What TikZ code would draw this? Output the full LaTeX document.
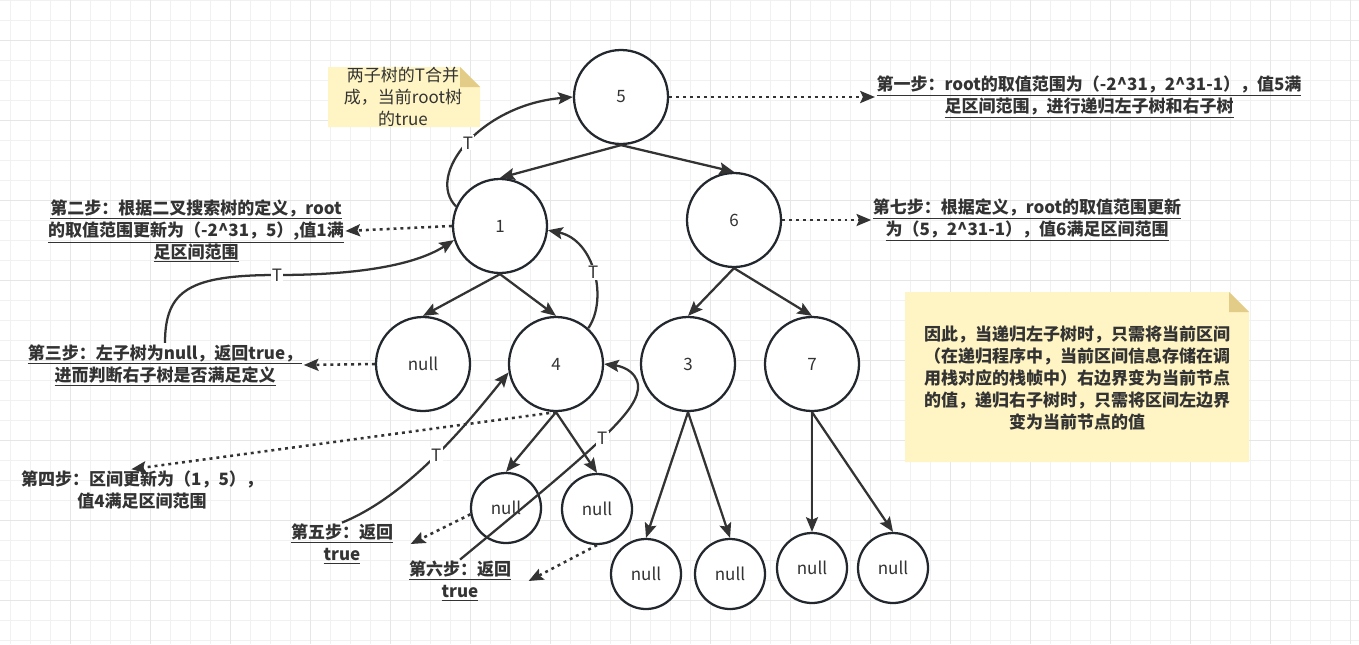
\documentclass[tikz,border=0pt]{standalone}
\usepackage{fontspec}
\setmainfont{Noto Sans CJK SC}
\usetikzlibrary{arrows.meta}
\definecolor{ink}{HTML}{333333}
\definecolor{ring}{HTML}{23282E}
\definecolor{notefill}{HTML}{FFF4C3}
\definecolor{notefold}{HTML}{E3CC87}
\definecolor{gridminor}{HTML}{F1F1F1}
\definecolor{gridmajor}{HTML}{E6E6E6}

\begin{document}
\begin{tikzpicture}[x=0.75pt,y=-0.75pt,
  every node/.style={font=\fontsize{12.75}{16.5}\selectfont,text=ink},
  tree/.style={circle,draw=ring,line width=1.7pt,fill=white,minimum size=70.5pt,inner sep=0pt},
  leaf/.style={tree,minimum size=52.5pt},
  edge/.style={draw=ink,line width=1.7pt,-{Stealth[length=11pt,width=9pt,inset=2pt]}},
  hint/.style={edge,line width=1.9pt,dash pattern=on 2.2pt off 3pt},
  stepnote/.style={align=center,inner sep=1pt,font=\bfseries\fontsize{12.75}{16.5}\selectfont},
  tlabel/.style={fill=white,inner sep=1pt}]
  \useasboundingbox (0,0) rectangle (1359,644);
  \fill[white] (0,0) rectangle (1359,644);

  % background grid
  \foreach \gx in {10,30,...,1350} \draw[gridminor,line width=0.75pt] (\gx,0) -- (\gx,644);
  \foreach \gy in {0,20,...,640} \draw[gridminor,line width=0.75pt] (0,\gy) -- (1359,\gy);
  \foreach \gx in {70,150,...,1350} \draw[gridmajor,line width=0.75pt] (\gx,0) -- (\gx,644);
  \foreach \gy in {40,120,...,600} \draw[gridmajor,line width=0.75pt] (0,\gy) -- (1359,\gy);

  % notes
  \fill[notefill] (328,67) -- (460,67) -- (480,87) -- (480,127) -- (328,127) -- cycle;
  \fill[notefold] (460,67) -- (480,87) -- (460,87) -- cycle;
  \node[align=center] (memo) at (403,97) {两子树的T合并\\成，当前root树\\的true};

  \fill[notefill] (905,292) -- (1229,292) -- (1249,312) -- (1249,462) -- (905,462) -- cycle;
  \fill[notefold] (1229,292) -- (1249,312) -- (1229,312) -- cycle;
  \node[stepnote] (summary) at (1077,378) {因此，当递归左子树时，只需将当前区间\\（在递归程序中，当前区间信息存储在调\\用栈对应的栈帧中）右边界变为当前节点\\的值，递归右子树时，只需将区间左边界\\变为当前节点的值};

  % tree
  \node[tree] (n5) at (621,97) {5};
  \node[tree] (n1) at (500,226) {1};
  \node[tree] (n6) at (734,220) {6};
  \node[tree] (nl) at (423,364) {null};
  \node[tree] (n4) at (556,364) {4};
  \node[tree] (n3) at (688,364) {3};
  \node[tree] (n7) at (812,364) {7};
  \node[leaf] (n4l) at (506,508) {null};
  \node[leaf] (n4r) at (597,509) {null};
  \node[leaf] (n3l) at (646,574) {null};
  \node[leaf] (n3r) at (730,574) {null};
  \node[leaf] (n7l) at (812,568) {null};
  \node[leaf] (n7r) at (893,568) {null};

  \draw[edge] (n5.south) -- (n1.north);
  \draw[edge] (n5.south) -- (n6.north);
  \draw[edge] (n1.south) -- (nl.north);
  \draw[edge] (n1.south) -- (n4.north);
  \draw[edge] (n6.south) -- (n3.north);
  \draw[edge] (n6.south) -- (n7.north);
  \draw[edge] (n4.south) -- (n4l.north);
  \draw[edge] (n4.south) -- (n4r.north);
  \draw[edge] (n3.south) -- (n3l.north);
  \draw[edge] (n3.south) -- (n3r.north);
  \draw[edge] (n7.south) -- (n7l.north);
  \draw[edge] (n7.south) -- (n7r.north);

  % steps
  \node[stepnote] (s1) at (1089,97) {\underline{第一步：root的取值范围为（-2\textasciicircum31，2\textasciicircum31-1），值5满}\\\underline{足区间范围，进行递归左子树和右子树}};
  \node[stepnote] (s2) at (196,231) {\underline{第二步：根据二叉搜索树的定义，root}\\\underline{的取值范围更新为（-2\textasciicircum31，5）,值1满}\\\underline{足区间范围}};
  \node[stepnote] (s7) at (1027,220) {\underline{第七步：根据定义，root的取值范围更新}\\\underline{为（5，2\textasciicircum31-1），值6满足区间范围}};
  \node[stepnote] (s3) at (165,365) {\underline{第三步：左子树为null，返回true，}\\\underline{进而判断右子树是否满足定义}};
  \node[stepnote] (s4) at (142,490) {第四步：区间更新为（1，5），\\值4满足区间范围};
  \node[stepnote] (s5) at (342,544) {\underline{第五步：返回}\\\underline{true}};
  \node[stepnote] (s6) at (460,581) {\underline{第六步：返回}\\\underline{true}};

  \draw[hint] (n5.east) -- (s1.west);
  \draw[hint] (n1.west) -- (s2.east);
  \draw[hint] (n6.east) -- (s7.west);
  \draw[hint] (nl.west) -- (s3.east);
  \draw[hint] (n4.south) -- ([xshift=-8pt]s4.north);
  \draw[hint] (n4l.190) -- ([xshift=12pt]s5.east);
  \draw[hint] (n4r.south) -- ([xshift=12pt]s6.east);

  % returns
  \draw[edge] (n1.156) .. controls (425,175) and (480,105) .. node[tlabel] {T} (n5.west);
  \draw[edge] (n4.48) .. controls (608,300) and (595,240) .. node[tlabel] {T} (n1.355);
  \draw[edge] (s3.north) .. controls (165,290) and (190,275) .. (277,275) node[tlabel] {T}
    .. controls (370,275) and (420,262) .. (n1.197);
  \draw[edge] (s5.north) .. controls (410,495) and (470,420) .. node[tlabel] {T} (n4.190);
  \draw[edge] (s6.north) .. controls (600,444) and (640,410) .. node[tlabel] {T} (638,385)
    .. controls (636,370) and (620,366) .. (n4.east);
\end{tikzpicture}
\end{document}
